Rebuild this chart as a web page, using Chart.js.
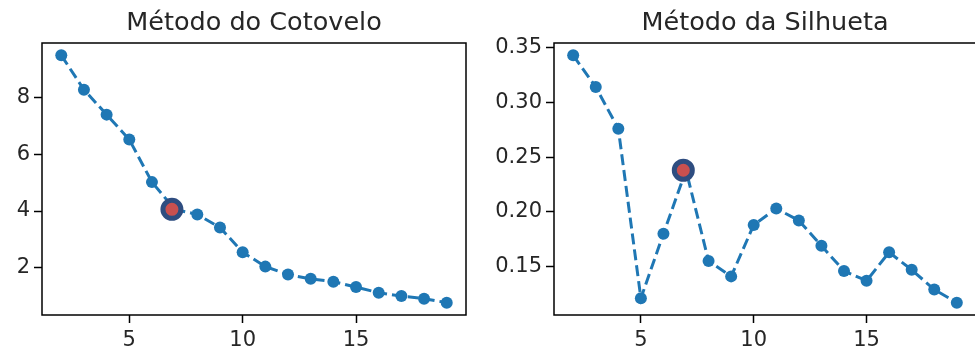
<!DOCTYPE html>
<html>
<head>
<meta charset="utf-8">
<title>Cotovelo e Silhueta</title>
<script src="https://cdn.jsdelivr.net/npm/chart.js@4.4.1/dist/chart.umd.min.js"></script>
<style>
  html, body { margin: 0; padding: 0; background: #fff; overflow: hidden; width: 975px; height: 354px; }
  .painel { position: absolute; top: 0; }
</style>
</head>
<body>
<div class="painel" style="left:0px"><canvas id="cotovelo" width="480" height="354"></canvas></div>
<div class="painel" style="left:490px"><canvas id="silhueta" width="500" height="354"></canvas></div>
<script>
// numero de clusters testados
var ks = [2, 3, 4, 5, 6, 7, 8, 9, 10, 11, 12, 13, 14, 15, 16, 17, 18, 19];
// inercia (metodo do cotovelo)
var inercia = [9.49, 8.28, 7.40, 6.52, 5.02, 4.06, 3.88, 3.42, 2.55, 2.04, 1.76, 1.61, 1.51, 1.32, 1.12, 1.00, 0.91, 0.77];
// coeficiente de silhueta
var silhueta = [0.343, 0.314, 0.276, 0.121, 0.180, 0.238, 0.155, 0.141, 0.188, 0.203, 0.192, 0.169, 0.146, 0.137, 0.163, 0.147, 0.129, 0.117];
var melhorK = 7;
var xDestaque = 6.88; // o marcador em destaque aparece um pouco a esquerda
var xTicks = [5, 10, 15];
var yTicksCotovelo = [2, 4, 6, 8];
var yTicksSilhueta = [0.15, 0.20, 0.25, 0.30, 0.35];

var corTexto = '#262626';
var fonteTick = { family: 'DejaVu Sans', size: 21 };

// margem de 5% como o matplotlib
function limites(v) {
    var lo = Math.min.apply(null, v), hi = Math.max.apply(null, v);
    var m = (hi - lo) * 0.05;
    return [lo - m, hi + m];
}

var moldura = {
    id: 'moldura',
    afterDraw: function (chart) {
        var a = chart.chartArea, ctx = chart.ctx;
        ctx.save();
        ctx.strokeStyle = '#000';
        ctx.lineWidth = 1.5;
        ctx.strokeRect(a.left, a.top, a.right - a.left, a.bottom - a.top);
        ctx.fillStyle = corTexto;
        ctx.font = '25.5px "DejaVu Sans"';
        ctx.textAlign = 'center';
        ctx.textBaseline = 'alphabetic';
        ctx.fillText(chart.options.plugins.titulo.text, (a.left + a.right) / 2, 30);
        ctx.restore();
    }
};

function grafico(id, titulo, valores, yTicks, casas, larguraY, padDir) {
    var xl = limites(ks), yl = limites(valores);
    var pontos = ks.map(function (k, i) { return { x: k, y: valores[i] }; });
    var destaque = [{ x: xDestaque, y: valores[ks.indexOf(melhorK)] }];
    return new Chart(document.getElementById(id), {
        type: 'line',
        data: {
            datasets: [{
                data: destaque,
                showLine: false,
                pointRadius: 9,
                pointBorderWidth: 5,
                pointBackgroundColor: '#c9504f',
                pointBorderColor: '#2e4d80'
            }, {
                data: pontos,
                borderColor: '#1f77b4',
                borderWidth: 3,
                borderDash: [11, 5],
                tension: 0,
                fill: false,
                pointRadius: 6,
                pointBorderWidth: 0,
                pointBackgroundColor: '#1f77b4'
            }]
        },
        options: {
            responsive: false,
            animation: false,
            layout: { padding: { top: 43, right: padDir, left: 0, bottom: 0 } },
            plugins: { legend: { display: false }, tooltip: { enabled: false }, titulo: { text: titulo } },
            scales: {
                x: {
                    type: 'linear', min: xl[0], max: xl[1],
                    afterBuildTicks: function (s) { s.ticks = xTicks.map(function (v) { return { value: v }; }); },
                    afterFit: function (s) { s.height = 39; },
                    ticks: { font: fonteTick, color: corTexto, padding: 5, maxRotation: 0 },
                    grid: { drawOnChartArea: false, tickLength: 8, tickColor: '#000', tickWidth: 1.5 },
                    border: { display: false }
                },
                y: {
                    type: 'linear', min: yl[0], max: yl[1],
                    afterBuildTicks: function (s) { s.ticks = yTicks.map(function (v) { return { value: v }; }); },
                    afterFit: function (s) { s.width = larguraY; },
                    ticks: {
                        font: fonteTick, color: corTexto, padding: 4,
                        callback: function (v) { return v.toFixed(casas); }
                    },
                    grid: { drawOnChartArea: false, tickLength: 8, tickColor: '#000', tickWidth: 1.5 },
                    border: { display: false }
                }
            }
        },
        plugins: [moldura]
    });
}

grafico('cotovelo', 'Método do Cotovelo', inercia, yTicksCotovelo, 0, 42, 12);
grafico('silhueta', 'Método da Silhueta', silhueta, yTicksSilhueta, 2, 64, 10);
</script>
</body>
</html>
